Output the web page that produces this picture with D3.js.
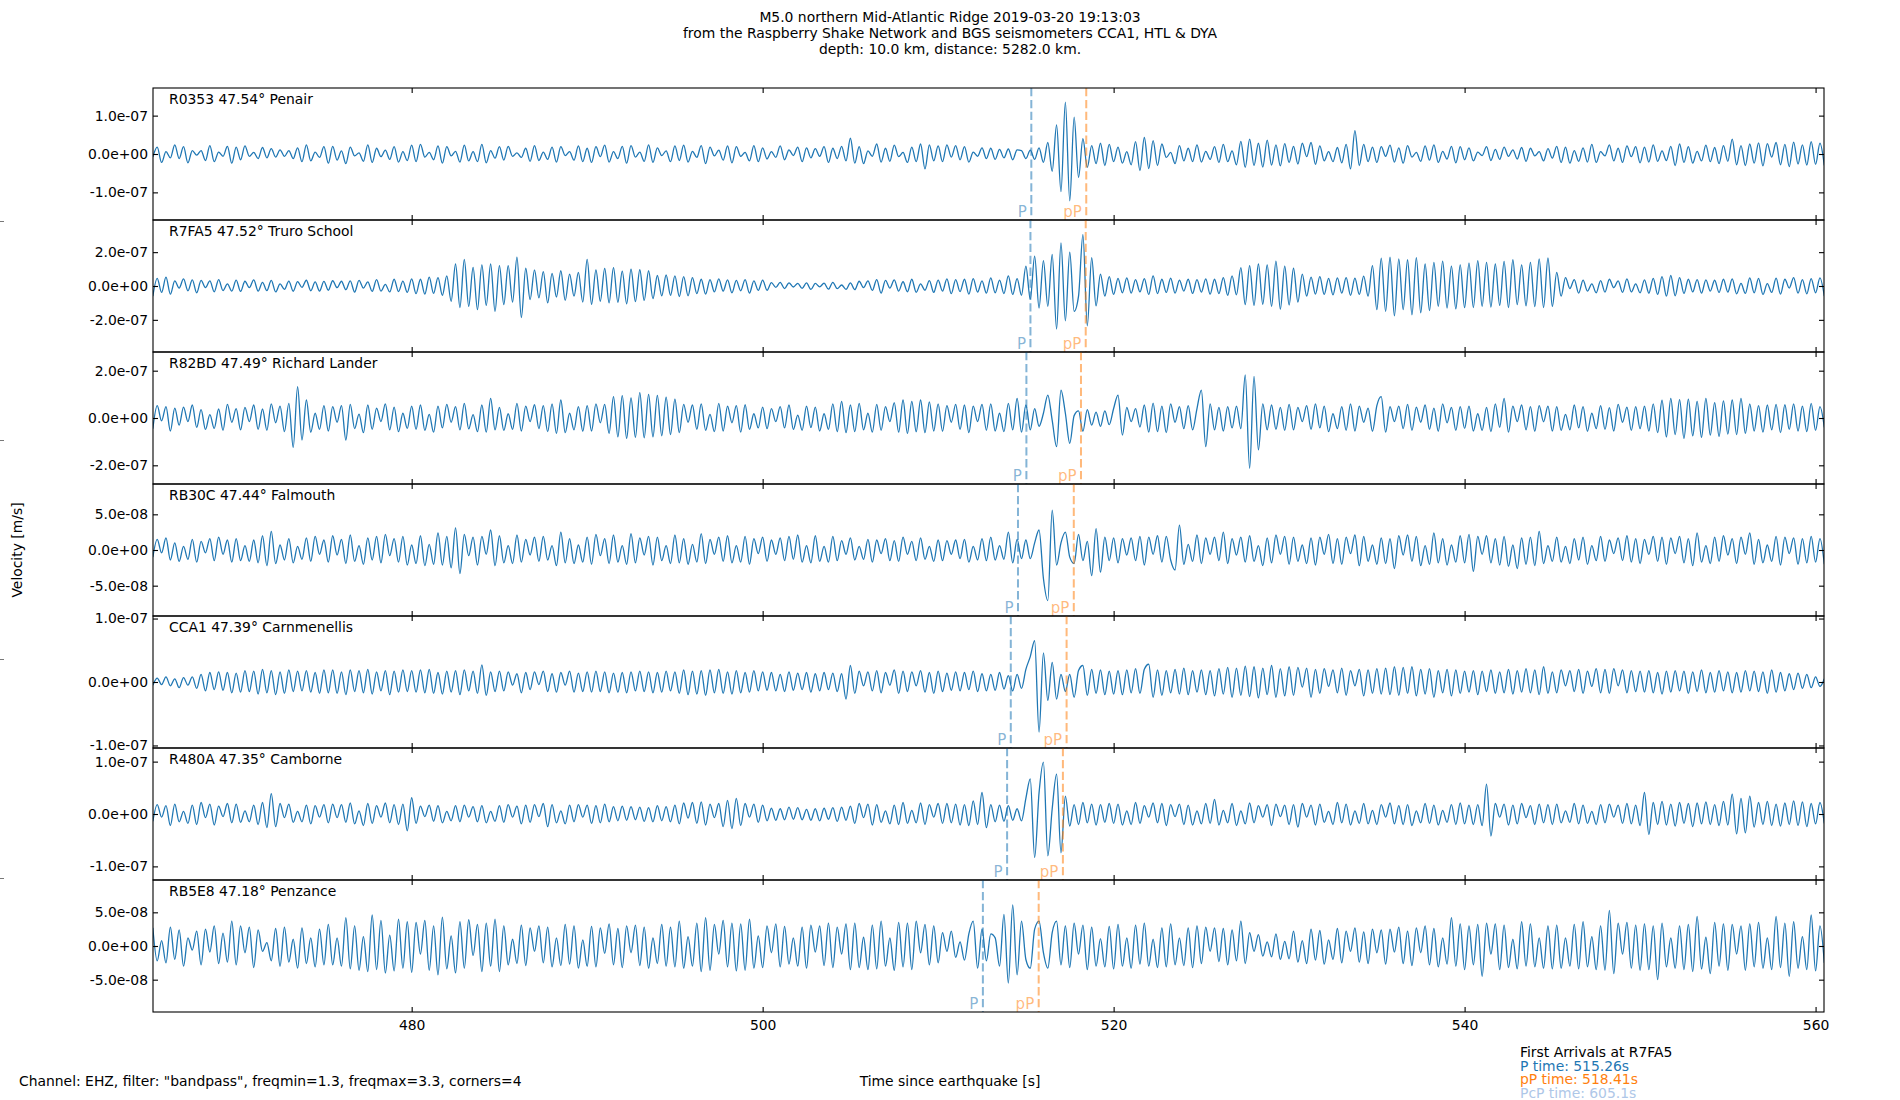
<!DOCTYPE html>
<html>
<head>
<meta charset="utf-8">
<script src="https://cdn.jsdelivr.net/npm/d3@7"></script>
<style>
  body { margin: 0; background: #fff; }
  text { font-family: "DejaVu Sans", sans-serif; font-size: 13.9px; }
</style>
</head>
<body>
<div id="chart"></div>
<script>
const W = 1900, H = 1100;
const margin = { top: 88, bottom: 88, left: 153, right: 76 };

// time axis
const xDomain = [465.26, 560.48];
const xTicks = [480, 500, 520, 540, 560];
// trace samples: one value every 0.25 s from t0, in units of 1e-9 m/s
const t0 = 465.25, dt = 0.25, unit = 1e-9;

const stationIds = ['R0353', 'R7FA5', 'R82BD', 'RB30C', 'CCA1', 'R480A', 'RB5E8'];
const stationDist = ['47.54', '47.52', '47.49', '47.44', '47.39', '47.35', '47.18'];
const stationPlace = ['Penair', 'Truro School', 'Richard Lander', 'Falmouth', 'Carnmenellis', 'Camborne', 'Penzance'];
const pArrivals = [515.31, 515.26, 515.03, 514.55, 514.14, 513.93, 512.55];
const ppArrivals = [518.44, 518.41, 518.14, 517.73, 517.32, 517.11, 515.73];
const yLimits = [172, 390, 279, 92.5, 104, 126, 98];
const yTickSteps = [100, 200, 200, 50, 100, 100, 50];

const r0353 = [
-8,18,-22,6,-10,24,-12,19,-23,9,-3,9,-17,22,-20,5,-6,20,-24,18,
-15,21,-6,4,-12,17,-10,14,-8,11,-6,9,-12,16,-20,24,-18,5,-9,19,
-24,20,-16,8,-25,18,-5,3,-19,24,-22,15,-7,10,-14,19,-21,6,-17,23,
-20,25,-8,4,-15,21,-24,19,-5,7,-21,23,-18,6,-20,25,-23,9,-11,19,
-16,20,-6,3,-9,15,-19,22,-17,5,-14,18,-21,19,-4,6,-16,21,-20,15,
-22,19,-7,23,-21,6,-12,20,-24,22,-8,5,-19,24,-22,16,-4,8,-20,21,
-17,23,-21,7,-9,22,-25,18,-5,10,-16,21,-23,19,-6,4,-18,22,-20,16,
-13,6,-9,21,-15,11,-4,18,-20,16,-10,14,-6,19,-22,15,-12,20,-18,41,
-24,19,-25,8,-6,26,-21,15,-19,23,-7,4,-22,18,-20,26,-39,24,-18,21,
-20,24,-8,22,-15,19,-21,5,-6,16,-12,15,-14,12,-10,13,-15,11,9,-12,
10,-14,16,-22,30,-45,76,-98,135,-122,96,-61,40,-35,22,-25,28,-30,25,-20,
18,-24,6,-28,32,-43,43,-38,35,-30,26,-9,4,-25,22,-18,15,-20,24,-21,
7,-14,19,-22,25,-20,8,-28,33,-35,39,-30,28,-34,36,-29,24,-31,27,-22,
20,-26,28,-7,30,-27,21,-18,6,-20,17,-23,25,-39,61,-30,25,-20,18,-22,
19,-6,23,-21,16,-24,22,-8,4,-19,21,-16,24,-22,7,-13,20,-23,19,-15,
16,-18,5,-4,19,-17,12,-14,18,-6,11,-13,17,-19,15,-5,6,-18,14,-11,
20,-22,18,-24,9,-19,16,-21,25,-22,6,-5,24,-18,15,-22,21,-7,19,-23,
18,-21,24,-19,8,-17,20,-30,26,-22,19,-24,7,-18,23,-20,17,-25,22,-19,
39,-28,22,-30,26,-24,29,-31,27,-8,30,-28,25,-33,31,-26,24,-29,32,-27,
28,-30];

const r7fa5 = [
-60,45,-38,52,-48,30,-12,42,-28,36,-40,33,-10,30,-34,38,-27,12,-30,35,
-32,28,-10,36,-30,22,-27,33,-35,12,-20,29,-31,26,-8,34,-28,24,-30,27,
-25,31,-10,28,-22,30,-36,33,-12,24,-32,38,-30,10,-35,40,-33,29,-38,42,
-45,40,-48,52,-44,50,-55,60,-90,130,-127,157,-120,110,-140,125,-115,130,-150,120,
-110,120,-95,170,-186,105,-80,95,-70,85,-100,75,-65,90,-85,70,-60,80,-95,157,
-108,95,-90,104,-100,108,-96,88,-105,100,-92,96,-85,90,-75,62,-58,65,-55,60,
-62,55,-58,50,-45,40,-48,38,-35,42,-30,36,-40,33,-28,38,-42,30,-26,35,
-25,20,-8,22,-15,19,-6,16,-14,18,-20,15,-5,17,-19,22,-16,6,-20,18,
-22,28,-10,30,-26,38,-42,33,-12,36,-30,25,-34,40,-37,12,-25,32,-38,35,
-30,42,-45,38,-33,40,-48,44,-36,30,-42,48,-40,35,-45,60,-50,44,-55,118,
-78,176,-130,150,-120,186,-255,255,-206,200,-150,-60,304,-235,167,-118,70,-60,55,-50,
45,-40,48,-42,38,-35,44,-50,60,-45,40,-38,46,-42,35,-30,40,-44,38,-36,
42,-48,40,-45,50,-55,60,-52,108,-110,120,-115,130,-108,125,-120,147,-137,118,-112,
105,-95,70,-60,52,-48,55,-50,45,-52,48,-42,50,-55,46,-50,58,-60,120,-140,
165,-150,170,-176,160,-140,155,-170,168,-158,130,-145,140,-120,147,-130,118,-135,125,-128,
135,-127,150,-120,140,-125,130,-115,145,-127,155,-110,125,-118,140,-122,160,-127,166,-120,
80,-60,50,-15,38,-42,35,-30,12,-40,32,-36,40,-10,30,-38,42,-35,12,-40,
36,-42,45,-50,55,-60,62,-58,50,-44,40,-35,38,-42,36,-30,34,-38,40,-36,
42,-46,15,-44,48,-40,45,-50,14,-38,46,-48,40,-12,50,-42,38,-46,44,-40,
48,-60];

const r82bd = [
-45,52,-12,48,-55,42,-30,46,-15,55,-40,35,-48,14,-44,38,-52,58,-18,40,
-50,45,-15,55,-48,38,-52,60,-20,50,-58,62,-124,132,-93,76,-60,20,-48,52,
-55,48,-18,52,-93,58,-45,16,-62,55,-48,42,-15,60,-50,46,-58,20,-44,50,
-48,55,-52,15,-60,50,-42,58,-18,48,-50,62,-46,14,-58,55,-60,83,-50,45,
-52,18,-48,62,-55,50,-15,56,-45,52,-58,60,-65,76,-62,20,-50,48,-56,52,
-55,60,-20,58,-65,90,-80,95,-86,85,-82,107,-84,100,-80,96,-75,88,-70,80,
-62,58,-18,55,-48,60,-52,15,-58,62,-55,50,-20,52,-60,56,-48,18,-42,46,
-45,40,-15,48,-42,55,-48,12,-52,50,-40,46,-55,18,-48,60,-58,70,-62,55,
-58,62,-50,20,-60,58,-52,48,-15,65,-60,76,-65,70,-58,76,-62,68,-55,60,
-56,52,-18,58,-48,55,-62,50,-15,58,-52,60,-55,20,-58,62,-50,83,-60,55,
-50,40,-35,20,97,-10,-121,118,20,-107,10,30,-56,35,-30,25,-35,30,-28,40,
97,-72,45,-15,40,-38,55,-60,63,-58,50,-62,60,-18,48,-45,52,-50,40,118,
-121,60,-50,45,-55,48,-42,50,-45,182,-213,176,-135,60,-50,55,-48,45,-52,58,
-50,45,-15,52,-48,60,-42,50,-58,18,-45,48,-52,60,-55,50,-18,42,-56,52,
90,-60,48,-15,50,-45,58,-52,46,-18,55,-48,42,-56,60,-20,45,-52,48,-44,
50,-55,18,-52,45,-58,60,-40,83,-60,50,-15,55,-50,48,-56,52,-16,50,-55,
48,-52,15,-50,55,-42,48,-56,20,-45,52,-48,44,-55,58,-18,46,-52,48,-45,
50,-55,60,-62,75,-80,83,-70,78,-86,80,-75,70,-82,83,-72,65,-78,72,-68,
76,-70,83,-65,60,-55,52,-60,55,-50,58,-62,56,-48,60,-55,50,-58,62,-52,
48,-40];

const rb30c = [
-10,15,-4,17,-14,10,-16,5,-13,15,-17,12,-4,16,-15,18,-6,14,-17,16,
-15,6,-16,14,-18,20,-22,26,-19,7,-14,16,-18,5,-13,17,-16,19,-6,14,
-17,20,-7,15,-19,21,-16,6,-20,17,-14,19,-18,22,-8,16,-17,19,-21,7,
-19,20,-22,8,-20,24,-21,19,-25,31,-33,22,-8,18,-21,19,-6,28,-22,20,
-18,6,-19,21,-17,15,-7,18,-16,19,-14,6,-22,25,-18,16,-19,7,-17,18,
-20,22,-8,16,-19,21,-17,6,-20,23,-18,17,-7,19,-21,18,-15,6,-19,21,
-18,16,-20,8,-17,23,-19,15,-6,18,-16,20,-18,6,-17,19,-20,16,-5,18,
-16,14,-6,17,-15,19,-13,21,-17,6,-18,20,-16,5,-17,19,-15,13,-6,17,
-14,5,-13,15,-17,14,-5,16,-15,13,-16,18,-6,12,-15,17,-13,5,-16,14,
-15,13,-6,14,-12,15,-17,5,-14,16,-15,18,-14,6,-13,25,-18,15,-12,14,
-12,10,28,-40,-71,56,-21,10,25,-10,-19,22,-15,12,-36,30,-31,18,-15,17,
-18,16,-7,17,-15,19,-21,18,-6,20,-17,19,-14,-28,35,-20,8,-16,21,-19,
17,-6,18,-15,25,-19,16,-7,18,-17,20,-16,6,-22,17,-18,21,-6,19,-20,
18,-16,7,-19,17,-21,18,-6,22,-19,16,-20,18,-5,21,-22,19,-16,7,-20,
17,-19,16,-26,20,-7,21,-16,19,-22,6,-20,24,-18,16,-21,7,-17,20,-18,
22,-30,19,-6,20,-18,16,-21,19,-23,7,-26,17,-20,18,-22,26,-19,6,-16,
18,-17,5,-19,16,-14,18,-20,6,-15,19,-16,14,-5,17,-15,20,-17,16,-19,
15,-6,19,-16,18,-20,17,-5,19,-18,16,-22,24,-17,6,-19,18,-16,20,-7,
16,-19,18,-6,24,-20,15,-18,7,-16,19,-21,18,-5,17,-20,16,-18,19,-17,
16,-20];

const cca1 = [
-5,6,-4,8,-6,5,-9,7,-5,8,-10,12,-14,15,-12,16,-13,15,-17,14,
-16,18,-15,17,-19,20,-17,18,-20,16,-18,19,-15,17,-14,18,-16,15,-18,19,
-17,19,-18,16,-20,19,-15,18,-17,20,-19,16,-14,18,-20,17,-16,19,-15,18,
-16,19,-17,20,-18,15,-19,17,-16,18,-20,19,-14,17,-18,27,-21,16,-15,17,
-14,16,-5,13,-17,15,-12,16,-4,17,-15,13,-16,15,-5,17,-16,14,-15,16,
-16,17,-15,16,-17,14,-16,15,-17,16,-14,17,-15,16,-17,15,-16,17,-14,16,
-18,19,-20,17,-19,18,-21,19,-17,20,-18,16,-19,18,-17,15,-16,18,-14,16,
-13,15,-14,12,-15,16,-13,14,-12,15,-16,13,-14,15,-12,14,-15,13,-27,26,
-18,17,-6,16,-14,18,-17,15,-5,19,-18,17,-15,16,-6,18,-16,15,-18,17,
-15,14,-13,16,-14,15,-12,17,-15,13,-14,12,-13,15,-11,10,-14,12,-10,20,
40,65,-79,46,-29,31,-27,12,-15,12,-24,18,26,-21,20,-18,19,-20,17,-19,
18,-20,19,-17,21,-18,20,28,-24,19,-21,18,-17,20,-19,22,-20,18,-16,19,
-20,18,-22,21,-19,23,-24,22,-21,25,-23,24,-25,22,-20,26,-24,21,-22,24,
-21,23,-8,22,-24,20,-18,21,-7,19,-17,22,-21,18,-6,20,-22,19,-18,21,
-19,22,-20,24,-21,23,-18,24,-22,20,-19,21,-24,18,-17,20,-22,19,-18,17,
-16,18,-20,17,-15,19,-18,16,-17,20,-19,18,-16,21,-17,19,-20,24,-18,16,
-17,19,-6,18,-15,20,-18,17,-7,21,-17,20,-18,21,-6,19,-17,18,-15,17,
-16,18,-17,15,-19,17,-16,18,-14,17,-18,16,-15,19,-17,15,-16,18,-14,16,
-17,15,-16,18,-14,17,-15,16,-18,19,-16,15,-14,13,-12,14,-10,12,-9,8,
-7,5];

const r480a = [
-14,18,-6,16,-22,19,-15,5,-18,17,-20,22,-7,19,-21,15,-5,20,-17,19,
-16,6,-15,17,-20,22,-26,39,-24,20,-7,19,-16,5,-15,17,-19,16,-6,18,
-17,19,-7,18,-16,21,-19,6,-22,20,-18,16,-6,21,-17,18,-20,19,-32,31,
-18,15,-5,17,-14,16,-17,5,-13,16,-15,17,-6,14,-15,16,-17,5,-14,16,
-16,18,-6,15,-19,17,-16,18,-5,20,-24,18,-17,6,-19,17,-15,18,-6,17,
-18,16,-17,19,-15,14,-13,15,-12,14,-11,13,-14,12,-15,16,-13,14,-15,17,
-19,21,-8,22,-18,23,-21,19,-7,20,-24,26,-28,30,-22,20,-6,19,-16,17,
-13,11,-12,10,-11,13,-10,12,-11,9,-12,10,-13,11,-10,12,-14,13,-12,15,
-18,20,-7,19,-21,18,-16,6,-19,17,-20,22,-18,7,-17,21,-20,18,-6,20,
-18,20,-17,19,-21,18,-22,25,-20,41,-26,18,-15,17,-14,16,-12,10,-13,30,
67,-83,40,99,-80,10,76,-74,34,-23,18,-20,22,-17,19,-21,18,-16,20,-18,
19,-21,6,-20,22,-18,16,-6,21,-17,20,-22,18,-5,19,-20,17,-21,6,-19,
20,-18,28,-21,7,-17,20,-22,6,-19,21,-17,16,-6,18,-22,19,-5,17,-20,
18,-25,20,-6,17,-21,19,-16,5,-20,22,-17,19,-21,6,-18,20,-19,7,-20,
18,-6,21,-19,16,-20,18,-22,6,-17,20,-18,17,-21,7,-16,18,-20,21,-19,
17,-20,18,-22,57,-42,20,-6,19,-21,17,-19,20,-7,16,-20,19,-17,18,-20,
19,-17,6,-16,20,-19,17,-18,5,-20,18,-17,19,-6,17,-18,20,-19,17,-22,
41,-39,22,-20,24,-21,19,-23,22,-18,20,-24,21,-19,23,-20,18,-22,24,-21,
38,-38,30,-36,34,-25,22,-20,24,-22,19,-23,21,-20,25,-22,23,-24,20,-19,
22,-18];

const rb5e8 = [
27,-22,8,-25,28,-20,24,-30,12,-6,22,-28,25,-9,30,-26,19,-24,37,-28,
30,-10,28,-32,24,-8,5,-22,26,-30,28,-24,10,-33,27,-26,12,-31,25,-28,
32,-28,12,-30,42,-34,30,-36,14,-38,46,-35,38,-40,16,-37,40,-33,36,-39,
35,-12,38,-36,30,-43,43,-34,15,-40,36,-33,39,-14,32,-38,34,-30,40,-38,
30,-28,10,-26,31,-29,27,-8,30,-25,28,-31,12,-29,32,-27,30,-33,9,-30,
29,-31,27,-11,33,-28,26,-32,30,-10,31,-29,28,-33,12,-26,32,-30,28,-31,
37,-33,14,-30,34,-38,42,-36,32,-12,38,-31,34,-37,33,-36,40,-33,15,-32,
30,-10,33,-31,29,-27,12,-30,28,-33,31,-9,30,-29,34,-32,28,-12,33,-35,
34,-32,13,-35,31,-34,37,-30,12,-36,35,-31,34,-35,37,-10,32,-28,30,-25,
20,-8,22,-17,6,-21,18,37,-33,25,-22,18,12,-30,47,-55,61,-43,37,-20,
-33,25,37,-10,-33,20,37,-28,30,-32,34,-12,31,-35,28,-30,11,-31,29,-34,
32,-30,12,-33,31,-27,34,-30,10,-32,27,-31,33,-28,12,-29,27,-32,30,-26,
28,-8,27,-23,26,-28,24,-22,37,-26,20,-8,17,-15,6,-16,18,-20,7,-19,
22,-24,8,-26,25,-21,23,-27,9,-20,26,-25,22,-8,27,-24,21,-26,25,-10,
24,-27,25,-9,28,-26,22,-29,27,-10,30,-28,26,-31,12,-27,42,-30,33,-35,
30,-28,32,-45,34,-12,33,-35,31,-32,10,-34,36,-30,33,-31,12,-33,30,-34,
31,-33,12,-30,32,-34,36,-31,14,-35,30,-36,53,-41,34,-12,35,-33,31,-36,
33,-35,30,-50,34,-31,12,-33,30,-35,32,-38,44,-34,13,-41,35,-30,33,-36,
32,-12,30,-36,33,-31,35,-33,12,-35,44,-32,34,-45,36,-33,14,-35,46,-37,
30,-25];

const traces = [r0353, r7fa5, r82bd, rb30c, cca1, r480a, rb5e8];

const titleLines = [
  'M5.0 northern Mid-Atlantic Ridge 2019-03-20 19:13:03',
  'from the Raspberry Shake Network and BGS seismometers CCA1, HTL & DYA',
  'depth: 10.0 km, distance: 5282.0 km.'
];
const arrivalLines = ['First Arrivals at R7FA5', 'P time: 515.26s', 'pP time: 518.41s', 'PcP time: 605.1s'];
const arrivalColors = ['#000', '#1f77b4', '#ff7f0e', '#aec7e8'];

const svg = d3.select('#chart').append('svg')
  .attr('width', W)
  .attr('height', H);

svg.append('rect').attr('width', W).attr('height', H).attr('fill', '#fff');

const plotW = W - margin.left - margin.right;
const panelH = (H - margin.top - margin.bottom) / traces.length;

const x = d3.scaleLinear().domain(xDomain).range([0, plotW]);

// matplotlib style exponent labels, e.g. 1.0e-07
const sci = v => (v * unit).toExponential(1).replace(/e([+-])(\d)$/, 'e$10$2');

traces.forEach((trace, i) => {
  const g = svg.append('g')
    .attr('transform', `translate(${margin.left},${margin.top + i * panelH})`);

  const lim = yLimits[i];
  const y = d3.scaleLinear().domain([-lim, lim]).range([panelH, 0]);

  g.append('clipPath').attr('id', 'clip' + i)
    .append('rect').attr('width', plotW).attr('height', panelH);

  const line = d3.line()
    .x((d, j) => x(t0 + j * dt))
    .y(d => y(d))
    .curve(d3.curveMonotoneX);

  g.append('path')
    .attr('clip-path', `url(#clip${i})`)
    .attr('d', line(trace))
    .attr('fill', 'none')
    .attr('stroke', '#1f77b4')
    .attr('stroke-width', 1.3);

  // arrival markers
  [[pArrivals[i], 'P', '#1f77b4'], [ppArrivals[i], 'pP', '#ff7f0e']].forEach(([t, lab, col]) => {
    g.append('line')
      .attr('x1', x(t)).attr('x2', x(t))
      .attr('y1', 0).attr('y2', panelH)
      .attr('stroke', col)
      .attr('stroke-opacity', 0.55)
      .attr('stroke-width', 2)
      .attr('stroke-dasharray', '8.3,3.6');
    g.append('text')
      .attr('x', x(t) - 4.5)
      .attr('y', panelH - 3)
      .attr('text-anchor', 'end')
      .attr('fill', col)
      .attr('fill-opacity', 0.55)
      .style('font-size', '15px')
      .text(lab);
  });

  g.append('text')
    .attr('x', 16)
    .attr('y', 16)
    .text(`${stationIds[i]} ${stationDist[i]}° ${stationPlace[i]}`);

  const step = yTickSteps[i];
  const yTickVals = [-step, 0, step];

  const left = g.append('g')
    .call(d3.axisLeft(y).tickValues(yTickVals).tickSize(-5).tickPadding(5).tickFormat(sci));
  left.select('.domain').remove();

  const right = g.append('g')
    .attr('transform', `translate(${plotW},0)`)
    .call(d3.axisRight(y).tickValues(yTickVals).tickSize(-5).tickFormat(''));
  right.select('.domain').remove();

  const top = g.append('g')
    .call(d3.axisTop(x).tickValues(xTicks).tickSize(-5).tickFormat(''));
  top.select('.domain').remove();

  const bottom = g.append('g')
    .attr('transform', `translate(0,${panelH})`)
    .call(d3.axisBottom(x).tickValues(xTicks).tickSize(-5).tickPadding(8)
      .tickFormat(i === traces.length - 1 ? d3.format('d') : ''));
  bottom.select('.domain').remove();

  g.selectAll('.tick line').attr('stroke-width', 1.1);

  g.append('rect')
    .attr('width', plotW)
    .attr('height', panelH)
    .attr('fill', 'none')
    .attr('stroke', '#000')
    .attr('stroke-width', 1.1);
});

// ticks of the outer (hidden) axis that carries the y label
const outer = d3.scaleLinear().domain([0, 1]).range([H - 3, 2]);
const outerAxis = svg.append('g')
  .attr('transform', 'translate(4,0)')
  .call(d3.axisLeft(outer).tickValues([0.2, 0.4, 0.6, 0.8]).tickSize(4).tickFormat(''));
outerAxis.select('.domain').remove();
outerAxis.selectAll('line').attr('stroke', '#555').attr('stroke-width', 0.8);

svg.append('text')
  .attr('transform', `translate(17,${margin.top + (H - margin.top - margin.bottom) / 2}) rotate(-90)`)
  .attr('text-anchor', 'middle')
  .attr('dominant-baseline', 'central')
  .text('Velocity [m/s]');

svg.selectAll('.title')
  .data(titleLines)
  .enter()
  .append('text')
  .attr('class', 'title')
  .attr('x', W / 2)
  .attr('y', (d, i) => 22 + i * 15.8)
  .attr('text-anchor', 'middle')
  .text(d => d);

svg.append('text')
  .attr('x', 19)
  .attr('y', 1086)
  .text('Channel: EHZ, filter: "bandpass", freqmin=1.3, freqmax=3.3, corners=4');

svg.append('text')
  .attr('x', W / 2)
  .attr('y', 1086)
  .attr('text-anchor', 'middle')
  .text('Time since earthquake [s]');

svg.selectAll('.arrivals')
  .data(arrivalLines)
  .enter()
  .append('text')
  .attr('class', 'arrivals')
  .attr('x', 1520)
  .attr('y', (d, i) => 1057 + i * 13.7)
  .attr('fill', (d, i) => arrivalColors[i])
  .text(d => d);
</script>
</body>
</html>
